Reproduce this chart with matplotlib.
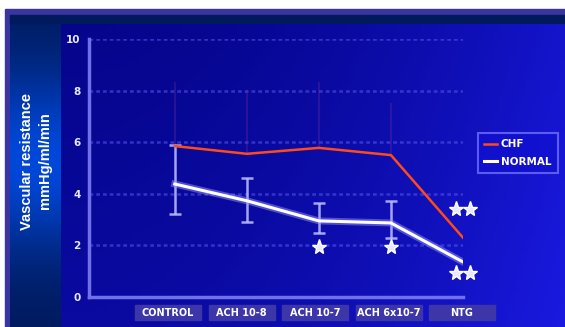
import numpy as np
import matplotlib.pyplot as plt
from matplotlib.patches import Rectangle

categories = ['CONTROL', 'ACH 10-8', 'ACH 10-7', 'ACH 6x10-7', 'NTG']
chf = [5.85, 5.55, 5.78, 5.5, 2.3]
chf_upper = [8.3, 8.0, 8.3, 7.5, 2.3]
normal = [4.38, 3.73, 2.95, 2.87, 1.36]
normal_lo = [3.2, 2.9, 2.48, 2.3, 1.36]
normal_hi = [5.9, 4.62, 3.65, 3.72, 1.36]
yticks = [0, 2, 4, 6, 8, 10]
# significance stars (x, y)
stars = [(2, 1.94), (3, 1.94), (3.9, 3.4), (4.1, 3.4), (3.9, 0.93), (4.1, 0.93)]

W, H = 565, 327
fig = plt.figure(figsize=(W / 100, H / 100), dpi=100)
fig.patch.set_facecolor('white')

def fx(px):
    return px / W

def fy(py):
    return 1 - py / H

# background layer in pixel coords
bg = fig.add_axes([0, 0, 1, 1])
bg.set_xlim(0, W)
bg.set_ylim(H, 0)
bg.axis('off')
bg.add_patch(Rectangle((5, 9), W - 5, H - 9, color='#3a35a0'))
bg.add_patch(Rectangle((10, 15), W - 10, 9, color='#001a5c'))
# left label panel, vertical gradient
grad = np.linspace(0, 1, 200)
grad = np.exp(-((grad - 0.45) / 0.3) ** 2)
col_a = np.array([0.0, 0.10, 0.36])
col_b = np.array([0.0, 0.28, 0.85])
img = col_a + (col_b - col_a) * grad[:, None]
bg.imshow(img[:, None, :], extent=(10, 61, H, 24), aspect='auto', zorder=1)
# main panel gradient
gx = np.linspace(0, 1, 120)
gy = np.linspace(0, 1, 80)
GX, GY = np.meshgrid(gx, gy)
t = np.clip(0.75 * GX ** 2 + 0.25 * GY, 0, 1)
dark = np.array([0.02, 0.02, 0.55])
light = np.array([0.10, 0.10, 0.88])
main = dark + (light - dark) * t[..., None]
bg.imshow(main, extent=(61, W, H, 24), aspect='auto', zorder=1)

bg.text(27, 161, 'Vascular resistance', rotation=90, color='white',
        fontsize=10.5, fontweight='bold', family='Liberation Sans',
        ha='center', va='center', zorder=3)
bg.text(45, 161, 'mmHg/ml/min', rotation=90, color='white',
        fontsize=10.5, fontweight='bold', family='Liberation Sans',
        ha='center', va='center', zorder=3)

# data axes
ax = fig.add_axes([fx(89), fy(297), fx(463) - fx(89), fy(39) - fy(297)])
ax.set_facecolor('none')
x = np.arange(len(categories))
ax.set_xlim(-1.19, 4.0)
ax.set_ylim(0, 10)

for v in yticks[1:]:
    ax.axhline(v, color='#5050e8', lw=1.8, alpha=0.6, ls=(0, (1.5, 1.2)), zorder=1)

for s in ['top', 'right']:
    ax.spines[s].set_visible(False)
for s in ['left', 'bottom']:
    ax.spines[s].set_color('#7070e8')
    ax.spines[s].set_linewidth(2.5)
ax.set_xticks([])
ax.set_yticks(yticks)
ax.set_yticklabels([str(v) for v in yticks], color='#e8e8ff', fontweight='bold',
                   fontsize=7.5)
ax.tick_params(axis='y', length=0, pad=6)

# faint CHF error bars
for xi, c, u in zip(x, chf, chf_upper):
    ax.plot([xi, xi], [c, u], color='#7a2aa0', lw=1.5, alpha=0.3, zorder=2)

# NORMAL error bars
ax.errorbar(x[:4], normal[:4],
            yerr=[np.array(normal[:4]) - np.array(normal_lo[:4]),
                  np.array(normal_hi[:4]) - np.array(normal[:4])],
            fmt='none', ecolor='#c0c0ff', elinewidth=1.8, capsize=4,
            capthick=1.8, alpha=0.85, zorder=3)

ax.plot(x, chf, color='#ff4a1a', lw=1.8, label='CHF', zorder=4)
ax.plot(x, normal, color='#9090ff', lw=5, alpha=0.5, zorder=4)
ax.plot(x, normal, color='white', lw=2.2, label='NORMAL', zorder=5)

for sx, sy in stars:
    ax.plot(sx, sy, marker='*', color='#e8e8ff', ms=11, mec='white',
            ls='none', zorder=6, clip_on=False)

# category label boxes
for i, lab in enumerate(categories):
    px = 168 + i * 73.5
    bg.add_patch(Rectangle((px - 33, 305), 66, 15, color='#3c36a8', zorder=4))
    bg.text(px, 312.5, lab, color='white', fontweight='bold', fontsize=7,
            ha='center', va='center', zorder=5)

leg = ax.legend(loc='upper left', bbox_to_anchor=(fx(478), fy(133)),
                bbox_transform=fig.transFigure, frameon=True, fontsize=7.5,
                handlelength=1.2, handletextpad=0.4, borderpad=0.6,
                labelspacing=0.7, borderaxespad=0, fancybox=False)
leg.get_frame().set_facecolor('#1010d0')
leg.get_frame().set_edgecolor('#7070ff')
leg.get_frame().set_linewidth(1.5)
for txt in leg.get_texts():
    txt.set_color('white')
    txt.set_fontweight('bold')

fig.savefig('out.png', dpi=100)
